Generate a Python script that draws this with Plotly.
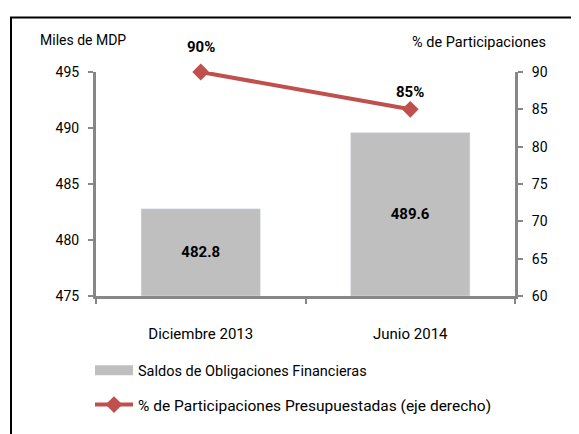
import plotly.graph_objects as go


# ---------------------------
# DATA
# ---------------------------

periodos = ["Diciembre 2013", "Junio 2014"]
saldos = [482.8, 489.6]
participaciones = [90, 85]

nombre_saldos = "Saldos de Obligaciones Financieras"
nombre_part = "% de Participaciones Presupuestadas (eje derecho)"

EJE_BASE = 475

FONT = "Roboto, sans-serif"
AXIS_GRAY = "#878787"
ROJO = "#C0504D"

# page is offset by the 8px body margin
OFF = 8
W, H = 579 - OFF, 434 - OFF
# plot area in page pixels: x 96..515, y 72..298
L, R, T, B = 96 - OFF, 579 - 515, 72 - OFF, 434 - 298
PW, PH = W - L - R, H - T - B


def px_x(x):
    return (x - OFF - L) / PW


def px_y(y):
    return (H - B - (y - OFF)) / PH


fig = go.Figure()

fig.add_trace(
    go.Bar(
        x=periodos,
        y=[v - EJE_BASE for v in saldos],
        base=EJE_BASE,
        name=nombre_saldos,
        marker=dict(color="#BFBFBF"),
        text=[f"{v:.1f}" for v in saldos],
        textposition="inside",
        insidetextanchor="middle",
        textfont=dict(family=FONT, size=15, color="#000000", weight="bold"),
        showlegend=False,
    )
)

# legend swatch for the bars (wide grey block like the original)
fig.add_trace(
    go.Scatter(
        x=[None],
        y=[None],
        mode="lines",
        name=nombre_saldos,
        line=dict(color="#BFBFBF", width=10),
        legend="legend",
        showlegend=True,
    )
)

fig.add_trace(
    go.Scatter(
        x=periodos,
        y=participaciones,
        name=nombre_part,
        mode="lines+markers",
        line=dict(color=ROJO, width=4),
        marker=dict(symbol="diamond", size=13, color=ROJO),
        cliponaxis=False,
        yaxis="y2",
        legend="legend2",
        showlegend=True,
    )
)

# percentage labels above the markers
etiquetas = []
for per, val, shift in zip(periodos, participaciones, [25, 17]):
    etiquetas.append(
        dict(
            text=f"<b>{val}%</b>",
            x=per, y=val,
            xref="x", yref="y2",
            yshift=shift,
            showarrow=False,
            font=dict(size=15, color="#000000"),
        )
    )

fig.update_layout(
    width=W,
    height=H,
    margin=dict(l=L, r=R, t=T, b=B, pad=0),
    paper_bgcolor="white",
    plot_bgcolor="white",
    font=dict(family=FONT, size=14, color="#000000"),
    bargap=0.43,
    showlegend=True,
    xaxis=dict(
        type="category",
        showline=True,
        linecolor=AXIS_GRAY,
        linewidth=3,
        ticks="outside",
        tickson="boundaries",
        tickcolor=AXIS_GRAY,
        tickwidth=2,
        ticklen=5,
        ticklabelstandoff=22,
        tickfont=dict(size=15),
        showgrid=False,
    ),
    yaxis=dict(
        range=[475, 495],
        dtick=5,
        showline=True,
        linecolor=AXIS_GRAY,
        linewidth=3,
        ticks="outside",
        tickcolor=AXIS_GRAY,
        tickwidth=2,
        ticklen=5,
        ticklabelstandoff=6,
        showgrid=False,
        zeroline=False,
    ),
    yaxis2=dict(
        range=[60, 90],
        dtick=5,
        overlaying="y",
        side="right",
        showline=True,
        linecolor=AXIS_GRAY,
        linewidth=3,
        ticks="outside",
        tickcolor=AXIS_GRAY,
        tickwidth=2,
        ticklen=5,
        ticklabelstandoff=6,
        showgrid=False,
        zeroline=False,
    ),
    legend=dict(
        x=px_x(90),
        y=px_y(373),
        xanchor="left",
        yanchor="middle",
        bgcolor="rgba(0,0,0,0)",
        font=dict(size=14.5),
        itemwidth=38,
    ),
    legend2=dict(
        x=px_x(90),
        y=px_y(408),
        xanchor="left",
        yanchor="middle",
        bgcolor="rgba(0,0,0,0)",
        font=dict(size=15.5),
        itemwidth=38,
    ),
    annotations=etiquetas + [
        dict(
            text="Miles de MDP",
            xref="paper", yref="paper",
            x=px_x(83), y=px_y(40),
            xanchor="center", yanchor="middle",
            showarrow=False,
            font=dict(size=14),
        ),
        dict(
            text="% de Participaciones",
            xref="paper", yref="paper",
            x=px_x(479), y=px_y(42),
            xanchor="center", yanchor="middle",
            showarrow=False,
            font=dict(size=14.5),
        ),
    ],
    shapes=[
        dict(
            type="rect",
            xref="paper", yref="paper",
            x0=px_x(11), x1=px_x(600),
            y0=px_y(460), y1=px_y(17),
            line=dict(color="#000000", width=2),
            fillcolor="rgba(0,0,0,0)",
            layer="below",
        )
    ],
)

fig.write_html("out.html")
